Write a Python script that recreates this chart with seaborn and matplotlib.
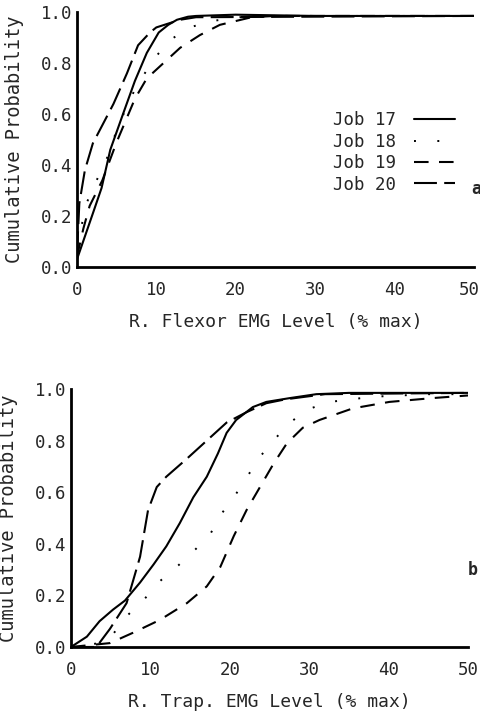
import matplotlib
matplotlib.use('Agg')
import matplotlib.pyplot as plt
import matplotlib.transforms as mtransforms
import seaborn as sns
import pandas as pd
from matplotlib.lines import Line2D

# Datos (EMG % max vs probabilidad acumulada)
# Panel a: R. Flexor
flex_17_x = [0, 1, 2, 3.1, 4.2, 5.8, 7.3, 8.8, 10.3, 11.5, 12.6, 14, 15, 20, 30, 50]
flex_17_y = [0.03, 0.12, 0.21, 0.31, 0.46, 0.60, 0.73, 0.84, 0.92, 0.95, 0.97, 0.982, 0.985, 0.99, 0.985, 0.985]
flex_18_x = [0, 1.2, 2.4, 3.7, 4.7, 6.0, 7.5, 9.8, 11.7, 14.2, 17, 20.5, 25, 50]
flex_18_y = [0.08, 0.25, 0.335, 0.42, 0.51, 0.61, 0.71, 0.82, 0.89, 0.94, 0.965, 0.98, 0.985, 0.985]
flex_19_x = [0, 0.8, 1.6, 3.2, 5.0, 7.3, 8.8, 10.9, 13.0, 15.5, 18, 20, 22, 25, 50]
flex_19_y = [0.04, 0.15, 0.24, 0.34, 0.49, 0.66, 0.74, 0.80, 0.86, 0.91, 0.95, 0.965, 0.98, 0.985, 0.985]
flex_20_x = [0, 0.3, 1.0, 2.0, 4.6, 6.3, 7.7, 9.2, 10, 13, 15, 50]
flex_20_y = [0.05, 0.25, 0.38, 0.485, 0.64, 0.76, 0.87, 0.92, 0.94, 0.97, 0.98, 0.985]

# Panel b: R. Trap.
trap_17_x = [0, 2, 3.6, 5.3, 6.8, 8.7, 10.4, 12, 13.7, 15.4, 17.1, 18.5, 19.6, 20.8, 22.9, 24.6, 27.6, 30.9, 35, 50]
trap_17_y = [0.0, 0.04, 0.10, 0.145, 0.18, 0.25, 0.32, 0.39, 0.48, 0.58, 0.66, 0.75, 0.83, 0.88, 0.93, 0.95, 0.965, 0.98, 0.985, 0.985]
trap_18_x = [0, 3.6, 5.3, 7.2, 9.1, 11, 13.3, 15.4, 17.5, 18.8, 20.5, 22.1, 23.6, 25.5, 27.4, 29.7, 32.6, 38, 45, 50]
trap_18_y = [0.0, 0.015, 0.05, 0.125, 0.18, 0.25, 0.31, 0.37, 0.435, 0.51, 0.58, 0.655, 0.73, 0.80, 0.865, 0.92, 0.95, 0.97, 0.98, 0.98]
trap_19_x = [0, 4.9, 7.8, 11.2, 14.6, 17.1, 18.8, 20.5, 22.1, 23.8, 25.5, 27.2, 29.2, 31.3, 35.5, 40.1, 45.6, 50]
trap_19_y = [0.0, 0.015, 0.055, 0.105, 0.17, 0.235, 0.31, 0.43, 0.53, 0.62, 0.71, 0.79, 0.85, 0.88, 0.925, 0.95, 0.965, 0.975]
trap_20_x = [0, 3.2, 4.9, 7.0, 8.7, 9.7, 10.8, 12, 14.6, 17.1, 19.6, 22.1, 24.6, 27, 32, 50]
trap_20_y = [0.0, 0.0, 0.07, 0.17, 0.35, 0.53, 0.62, 0.66, 0.73, 0.80, 0.87, 0.91, 0.945, 0.96, 0.98, 0.985]

etiquetas = ['Job 17', 'Job 18', 'Job 19', 'Job 20']
estilos = ['-', (0, (1, 11)), (0, (7, 5)), (0, (11, 3.5))]
grosores = [1.5, 1.4, 1.5, 1.5]
y_ticks = [0.0, 0.2, 0.4, 0.6, 0.8, 1.0]
x_ticks = [0, 10, 20, 30, 40, 50]

sns.set_style('white')
plt.rcParams['font.family'] = ['DejaVu Sans Mono', 'DejaVu Sans']

fig = plt.figure(figsize=(4.81, 7.13), dpi=100)
ax_a = fig.add_axes([0.160, 0.6255, 0.825, 0.3575])
ax_b = fig.add_axes([0.1476, 0.0926, 0.8254, 0.3618])

paneles = [
    (ax_a, [(flex_17_x, flex_17_y), (flex_18_x, flex_18_y), (flex_19_x, flex_19_y), (flex_20_x, flex_20_y)],
     'R. Flexor EMG Level (% max)'),
    (ax_b, [(trap_17_x, trap_17_y), (trap_18_x, trap_18_y), (trap_19_x, trap_19_y), (trap_20_x, trap_20_y)],
     'R. Trap. EMG Level (% max)'),
]

for ax, series, xlabel in paneles:
    for (xs, ys), est, lw in zip(series, estilos, grosores):
        df = pd.DataFrame({'x': xs, 'y': ys})
        sns.lineplot(data=df, x='x', y='y', ax=ax, color='black', linestyle=est,
                     linewidth=lw, sort=False, legend=False)
    ax.set_xlim(0, 50)
    ax.set_ylim(0, 1.0)
    ax.set_xticks(x_ticks)
    ax.set_yticks(y_ticks)
    ax.set_yticklabels([f'{v:.1f}' for v in y_ticks])
    ax.tick_params(axis='x', length=0, labelsize=12.5, pad=10)
    ax.tick_params(axis='y', length=5, width=1.3, direction='inout', labelsize=12.5, pad=1)
    for s in ['top', 'right']:
        ax.spines[s].set_visible(False)
    for s in ['left', 'bottom']:
        ax.spines[s].set_linewidth(2)
        ax.spines[s].set_color('black')
    ax.set_xlabel(xlabel, fontsize=13, labelpad=10)
    ax.set_ylabel('Cumulative Probability', fontsize=13.5, labelpad=12)
    ax.patch.set_alpha(0)

# El "50" del panel a queda pegado al borde derecho
ultimo = ax_a.get_xticklabels()[-1]
ultimo.set_horizontalalignment('right')
ultimo.set_transform(ultimo.get_transform() + mtransforms.ScaledTranslation(6 / 100, 0, fig.dpi_scale_trans))

# Leyenda con la etiqueta a la izquierda
handles = [Line2D([0], [0], color='black', linestyle=est, linewidth=lw)
           for est, lw in zip(estilos, grosores)]
ax_a.legend(handles, etiquetas, markerfirst=False, frameon=False, loc='center left',
            bbox_to_anchor=(0.607, 0.45), fontsize=12.5, handlelength=2.4,
            labelspacing=0.2, handletextpad=1.0)

fig.text(476 / 481, 1 - 189 / 713, 'a', fontsize=12, fontweight='bold', ha='center', va='center')
fig.text(473 / 481, 1 - 570 / 713, 'b', fontsize=12, fontweight='bold', ha='center', va='center')

fig.savefig('out.png', dpi=100)
